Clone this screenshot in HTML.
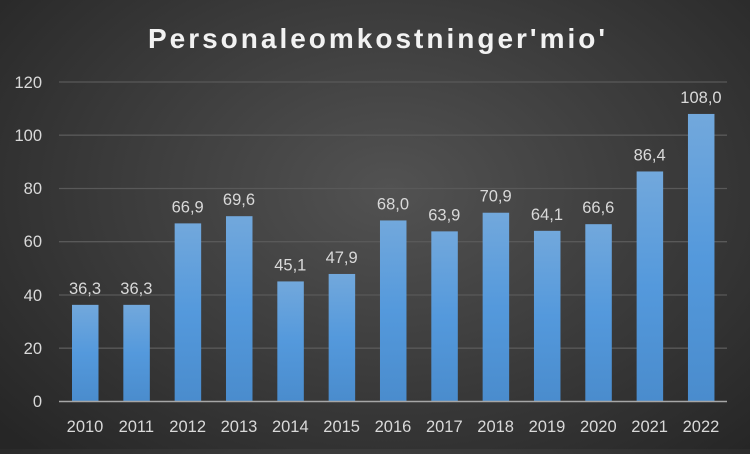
<!DOCTYPE html>
<html><head><style>
body{margin:0;width:750px;height:449px;overflow:hidden;background:radial-gradient(ellipse 520px 360px at 390px 190px,#525252 0%,#3a3a3a 55%,#262626 100%);font-family:"Liberation Sans",sans-serif;}
</style></head><body>
<svg width="750" height="449" xmlns="http://www.w3.org/2000/svg">
<defs><linearGradient id="g" x1="0" y1="0" x2="0" y2="1"><stop offset="0" stop-color="#72a8dc"/><stop offset="0.5" stop-color="#5499dc"/><stop offset="1" stop-color="#4a8ccd"/></linearGradient></defs>
<text x="378" y="48" text-anchor="middle" fill="#f2f2f2" font-size="28" font-weight="bold" letter-spacing="3">Personaleomkostninger'mio'</text>
<g stroke="#595959" stroke-width="1.3">
<line x1="59" x2="727" y1="82" y2="82"/><line x1="59" x2="727" y1="135.2" y2="135.2"/><line x1="59" x2="727" y1="188.5" y2="188.5"/><line x1="59" x2="727" y1="241.7" y2="241.7"/><line x1="59" x2="727" y1="295" y2="295"/><line x1="59" x2="727" y1="348.2" y2="348.2"/>
</g>
<g fill="#d9d9d9" font-size="16.5" text-anchor="end">
<text x="42" y="88">120</text><text x="42" y="141">100</text><text x="42" y="194">80</text><text x="42" y="247">60</text><text x="42" y="301">40</text><text x="42" y="354">20</text><text x="42" y="407">0</text>
</g>
<g id="bars"></g>
<line x1="59" x2="727" y1="401.5" y2="401.5" stroke="#a6a6a6" stroke-width="1.5"/>
<g fill="#d9d9d9" font-size="16.5" text-anchor="middle" id="labels"></g>
<script>
var v=[36.3,36.3,66.9,69.6,45.1,47.9,68.0,63.9,70.9,64.1,66.6,86.4,108.0];
var b=document.getElementById('bars'),l=document.getElementById('labels'),ns='http://www.w3.org/2000/svg';
v.forEach(function(d,i){var cx=85+i*51.33,h=d*2.6625,y=401.5-h;
var r=document.createElementNS(ns,'rect');r.setAttribute('x',cx-13);r.setAttribute('y',y);r.setAttribute('width',26.5);r.setAttribute('height',h);r.setAttribute('fill','url(#g)');b.appendChild(r);
var t=document.createElementNS(ns,'text');t.setAttribute('x',cx);t.setAttribute('y',y-11);t.textContent=d.toFixed(1).replace('.',',');l.appendChild(t);
var t2=document.createElementNS(ns,'text');t2.setAttribute('x',cx);t2.setAttribute('y',432);t2.textContent=2010+i;l.appendChild(t2);});
</script>
</svg>
</body></html>
